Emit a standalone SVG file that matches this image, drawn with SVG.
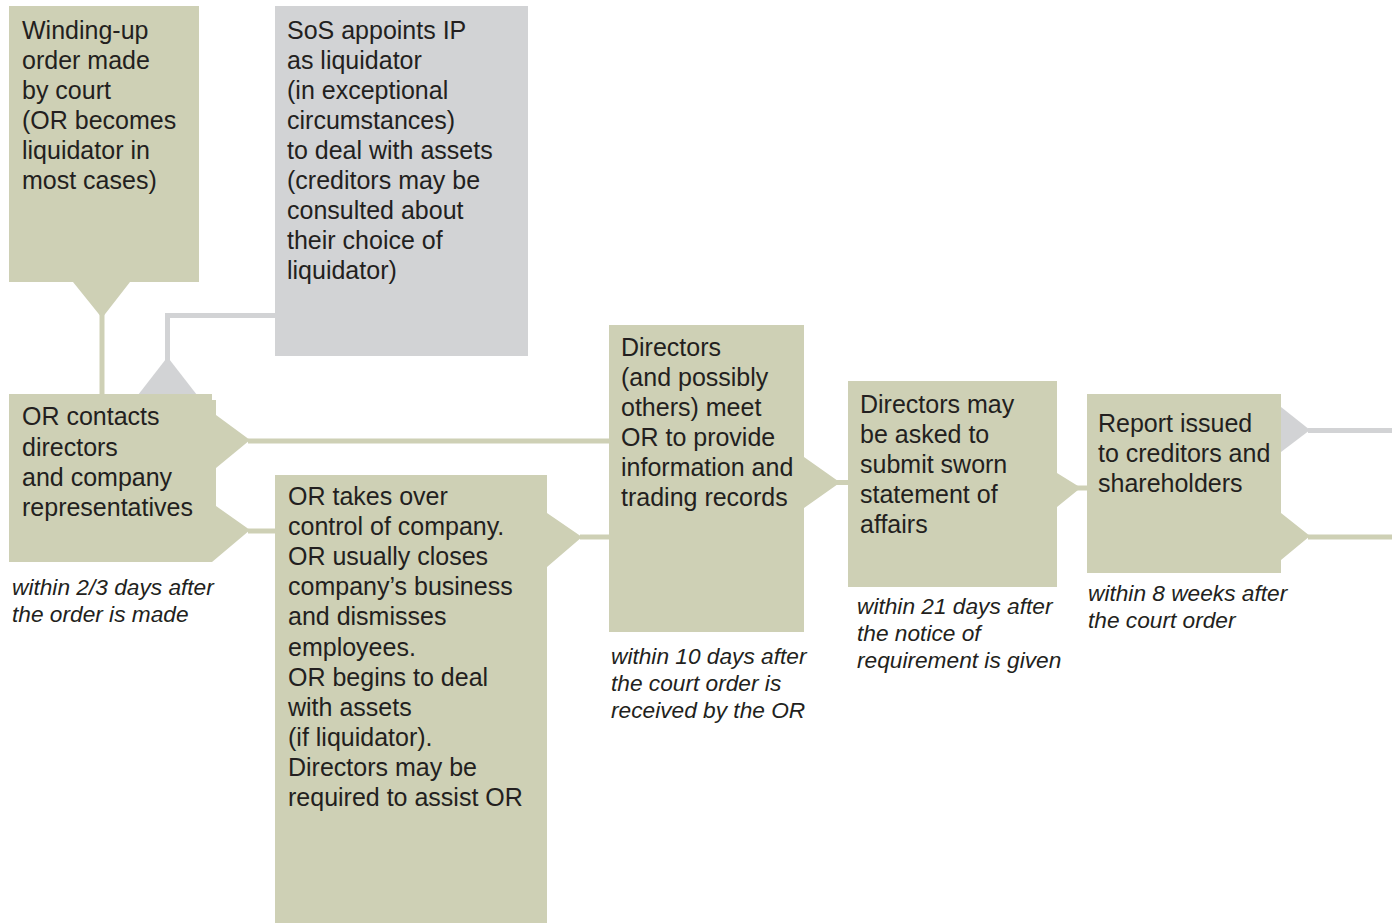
<svg xmlns="http://www.w3.org/2000/svg" width="1392" height="923" viewBox="0 0 1392 923">
<style>
.g{fill:#ced0b5}
.gr{fill:#d2d3d5}
.lg{stroke:#ced0b5;stroke-width:5;fill:none}
.lgr{stroke:#d2d3d5;stroke-width:5;fill:none}
text{font-family:"Liberation Sans",Arial,sans-serif;font-size:25px;fill:#231f20}
.it{font-style:italic;font-size:22.7px}
</style>
<rect width="1392" height="923" fill="#ffffff"/>
<g id="connectors">
<line class="lg" x1="102" y1="312" x2="102" y2="396"/>
<polyline class="lgr" points="277,315.5 167.5,315.5 167.5,362"/>
<polygon class="gr" points="138,395 197,395 167.5,357"/>
<line class="lg" x1="248" y1="441" x2="611" y2="441"/>
<line class="lg" x1="248" y1="531" x2="277" y2="531"/>
<line class="lg" x1="580" y1="537" x2="611" y2="537"/>
<line class="lg" x1="836" y1="482.5" x2="850" y2="482.5"/>
<line class="lg" x1="1076" y1="488" x2="1089" y2="488"/>
<polygon class="gr" points="1281,407 1310,430 1281,452"/>
<line class="lgr" x1="1308" y1="430.5" x2="1392" y2="430.5"/>
<line class="lg" x1="1308" y1="537" x2="1392" y2="537"/>
</g>
<g id="n-winding">
<polygon class="g" points="9,6 199,6 199,282 130,282 102,318 73,282 9,282"/>
<text x="22" y="39">Winding-up</text>
<text x="22" y="69">order made</text>
<text x="22" y="99">by court</text>
<text x="22" y="129">(OR becomes</text>
<text x="22" y="159">liquidator in</text>
<text x="22" y="189">most cases)</text>
</g>
<g id="n-sos">
<rect class="gr" x="275" y="6" width="253" height="350"/>
<text x="287" y="39">SoS appoints IP</text>
<text x="287" y="69">as liquidator</text>
<text x="287" y="99">(in exceptional</text>
<text x="287" y="129">circumstances)</text>
<text x="287" y="159">to deal with assets</text>
<text x="287" y="189">(creditors may be</text>
<text x="287" y="219">consulted about</text>
<text x="287" y="249">their choice of</text>
<text x="287" y="279">liquidator)</text>
</g>
<g id="n-contacts">
<polygon class="g" points="9,394 212,394 212,400 216,400 216,415 250,440 216,468 216,506 250,530 212,562 9,562"/>
<text x="22" y="425">OR contacts</text>
<text x="22" y="455.5">directors</text>
<text x="22" y="485.5">and company</text>
<text x="22" y="516">representatives</text>
<text class="it" x="12" y="595">within 2/3 days after</text>
<text class="it" x="12" y="622">the order is made</text>
</g>
<g id="n-takeover">
<polygon class="g" points="275,475 547,475 547,513 582,537 547,567 547,923 275,923"/>
<text x="288" y="505">OR takes over</text>
<text x="288" y="535.1">control of company.</text>
<text x="288" y="565.2">OR usually closes</text>
<text x="288" y="595.3">company’s business</text>
<text x="288" y="625.4">and dismisses</text>
<text x="288" y="655.5">employees.</text>
<text x="288" y="685.6">OR begins to deal</text>
<text x="288" y="715.7">with assets</text>
<text x="288" y="745.8">(if liquidator).</text>
<text x="288" y="775.9">Directors may be</text>
<text x="288" y="806">required to assist OR</text>
</g>
<g id="n-meet">
<polygon class="g" points="609,325 804,325 804,457 838,481 838,484 804,508 804,632 609,632"/>
<text x="621" y="356">Directors</text>
<text x="621" y="386">(and possibly</text>
<text x="621" y="416">others) meet</text>
<text x="621" y="446">OR to provide</text>
<text x="621" y="476">information and</text>
<text x="621" y="506">trading records</text>
<text class="it" x="611" y="664">within 10 days after</text>
<text class="it" x="611" y="691">the court order is</text>
<text class="it" x="611" y="718">received by the OR</text>
</g>
<g id="n-sworn">
<polygon class="g" points="848,381 1057,381 1057,473 1078,486 1078,490 1057,507 1057,587 848,587"/>
<text x="860" y="413">Directors may</text>
<text x="860" y="443">be asked to</text>
<text x="860" y="473">submit sworn</text>
<text x="860" y="503">statement of</text>
<text x="860" y="533">affairs</text>
<text class="it" x="857" y="614">within 21 days after</text>
<text class="it" x="857" y="641">the notice of</text>
<text class="it" x="857" y="668">requirement is given</text>
</g>
<g id="n-report">
<polygon class="g" points="1087,394 1281,394 1281,513 1310,536 1281,560 1281,573 1087,573"/>
<text x="1098" y="432">Report issued</text>
<text x="1098" y="462">to creditors and</text>
<text x="1098" y="492">shareholders</text>
<text class="it" x="1088" y="601">within 8 weeks after</text>
<text class="it" x="1088" y="628">the court order</text>
</g>
</svg>
